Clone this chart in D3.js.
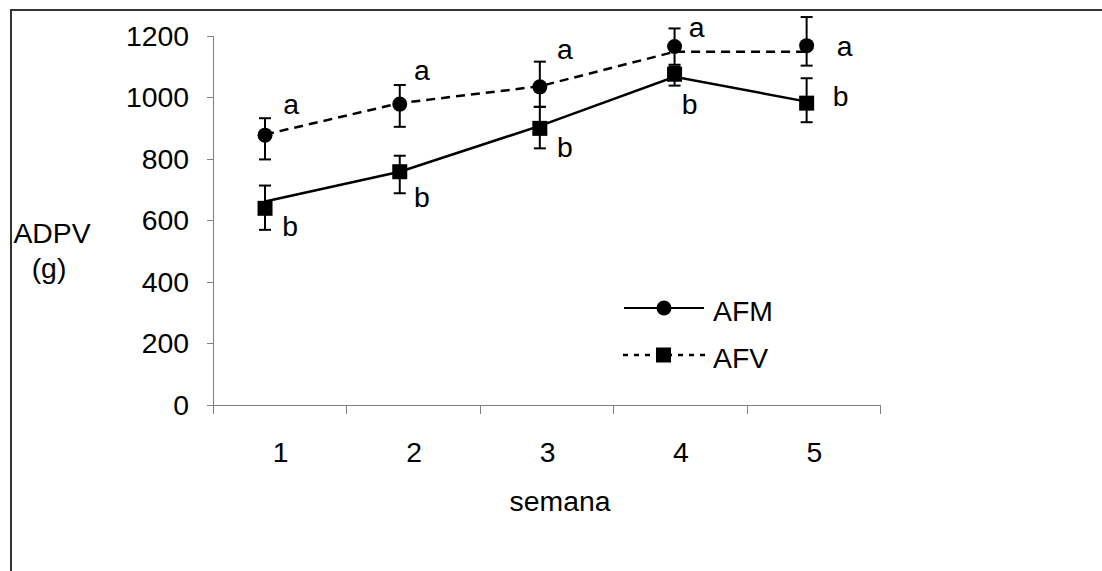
<!DOCTYPE html>
<html>
<head>
<meta charset="utf-8">
<title>ADPV por semana</title>
<script src="https://cdn.jsdelivr.net/npm/d3@7"></script>
<style>
  body { margin: 0; background: #fff; }
  text { font-family: "Liberation Sans", Arial, sans-serif; font-size: 27px; fill: #000; }
  .eje path, .eje line { stroke: #808080; stroke-width: 1px; shape-rendering: crispEdges; }
  .barra { stroke: #000; stroke-width: 2px; }
</style>
</head>
<body>
<div id="grafico"></div>
<script>
// semanas y posicion de los marcadores (en unidades de semana)
var semanas = [1, 2, 3, 4, 5];
var posMarcador = [0.89, 1.9, 2.95, 3.96, 4.95];
var ticksY = [0, 200, 400, 600, 800, 1000, 1200];

// serie con circulos (letra a)
var mediaCirc = [876, 977, 1033, 1164, 1167];
var altoCirc = [931, 1039, 1115, 1223, 1260];
var bajoCirc = [797, 903, 968, 1105, 1102];
var lineaDiscontinua = [878, 980, 1035, 1147, 1147];
var letrasCirc = ["a", "a", "a", "a", "a"];

// serie con cuadrados (letra b)
var mediaCuad = [638, 757, 898, 1074, 980];
var altoCuad = [712, 809, 968, 1099, 1061];
var bajoCuad = [568, 687, 833, 1037, 918];
var lineaContinua = [660, 757, 906, 1066, 985];
var letrasCuad = ["b", "b", "b", "b", "b"];

var leyenda = ["AFM", "AFV"];

// desplazamiento de las letras respecto al marcador (px)
var despA = [[26, -21], [22, -24], [25, -28], [22, -10], [38, 10]];
var despB = [[25, 28], [22, 35], [25, 29], [15, 40], [34, 3]];

var ancho = 1102, alto = 571;
var SX = 1.05; // texto algo ensanchado como en el original

var x = d3.scaleLinear().domain([0.5, 5.5]).range([213, 880]);
var y = d3.scaleLinear().domain([0, 1200]).range([404.5, 35.5]);

var svg = d3.select("#grafico").append("svg")
  .attr("width", ancho)
  .attr("height", alto);

function texto(g, px, py, s, anchor) {
  return g.append("text")
    .attr("transform", "translate(" + px + "," + py + ") scale(" + SX + ",1)")
    .attr("text-anchor", anchor || "middle")
    .text(s);
}

// marco
svg.append("path")
  .attr("d", "M11," + alto + "V10H" + ancho)
  .attr("fill", "none")
  .attr("stroke", "#333")
  .attr("stroke-width", 2);

// ejes
svg.append("g")
  .attr("class", "eje")
  .attr("transform", "translate(" + x(0.5) + ",0)")
  .call(d3.axisLeft(y).tickValues(ticksY).tickSize(6).tickSizeOuter(0).tickFormat(""));

svg.append("g")
  .attr("class", "eje")
  .attr("transform", "translate(0," + y(0) + ")")
  .call(d3.axisBottom(x).tickValues([0.5, 1.5, 2.5, 3.5, 4.5, 5.5]).tickSize(9).tickSizeOuter(0).tickFormat(""));

ticksY.forEach(function (v) {
  texto(svg, 189, y(v) + 10, v, "end");
});
semanas.forEach(function (s) {
  texto(svg, x(s) + 1, 462, s, "middle");
});
texto(svg, 560, 511, "semana", "middle");
texto(svg, 52, 243, "ADPV", "middle");
texto(svg, 49, 278, "(g)", "middle");

// lineas
var linea = d3.line()
  .x(function (d, i) { return x(posMarcador[i]); })
  .y(function (d) { return y(d); });

svg.append("path")
  .datum(lineaDiscontinua)
  .attr("d", linea)
  .attr("fill", "none")
  .attr("stroke", "#000")
  .attr("stroke-width", 2.5)
  .attr("stroke-dasharray", "9,6");

svg.append("path")
  .datum(lineaContinua)
  .attr("d", linea)
  .attr("fill", "none")
  .attr("stroke", "#000")
  .attr("stroke-width", 2.5);

// barras de error
function barras(alto, bajo) {
  var g = svg.append("g");
  semanas.forEach(function (s, i) {
    var cx = x(posMarcador[i]);
    g.append("line").attr("class", "barra")
      .attr("x1", cx).attr("x2", cx).attr("y1", y(alto[i])).attr("y2", y(bajo[i]));
    [alto[i], bajo[i]].forEach(function (v) {
      g.append("line").attr("class", "barra")
        .attr("x1", cx - 6).attr("x2", cx + 6).attr("y1", y(v)).attr("y2", y(v));
    });
  });
}
barras(altoCirc, bajoCirc);
barras(altoCuad, bajoCuad);

// marcadores
svg.selectAll(".circ")
  .data(mediaCirc)
  .enter()
  .append("circle")
  .attr("class", "circ")
  .attr("r", 7.5)
  .attr("cx", function (d, i) { return x(posMarcador[i]); })
  .attr("cy", function (d) { return y(d); })
  .attr("fill", "#000");

svg.selectAll(".cuad")
  .data(mediaCuad)
  .enter()
  .append("rect")
  .attr("class", "cuad")
  .attr("width", 15)
  .attr("height", 15)
  .attr("x", function (d, i) { return x(posMarcador[i]) - 7.5; })
  .attr("y", function (d) { return y(d) - 7.5; })
  .attr("fill", "#000");

// letras
letrasCirc.forEach(function (l, i) {
  texto(svg, x(posMarcador[i]) + despA[i][0], y(mediaCirc[i]) + despA[i][1], l, "middle");
});
letrasCuad.forEach(function (l, i) {
  texto(svg, x(posMarcador[i]) + despB[i][0], y(mediaCuad[i]) + despB[i][1], l, "middle");
});

// leyenda
var ley = svg.append("g");
ley.append("line").attr("x1", 624).attr("x2", 704).attr("y1", 308).attr("y2", 308)
  .attr("stroke", "#000").attr("stroke-width", 2);
ley.append("circle").attr("cx", 664).attr("cy", 308).attr("r", 7.5).attr("fill", "#000");
texto(ley, 713, 321, leyenda[0], "start");

ley.append("line").attr("x1", 623).attr("x2", 706).attr("y1", 355).attr("y2", 355)
  .attr("stroke", "#000").attr("stroke-width", 2.5).attr("stroke-dasharray", "5,6");
ley.append("rect").attr("x", 656).attr("y", 347.5).attr("width", 15).attr("height", 15).attr("fill", "#000");
texto(ley, 713, 368, leyenda[1], "start");
</script>
</body>
</html>
